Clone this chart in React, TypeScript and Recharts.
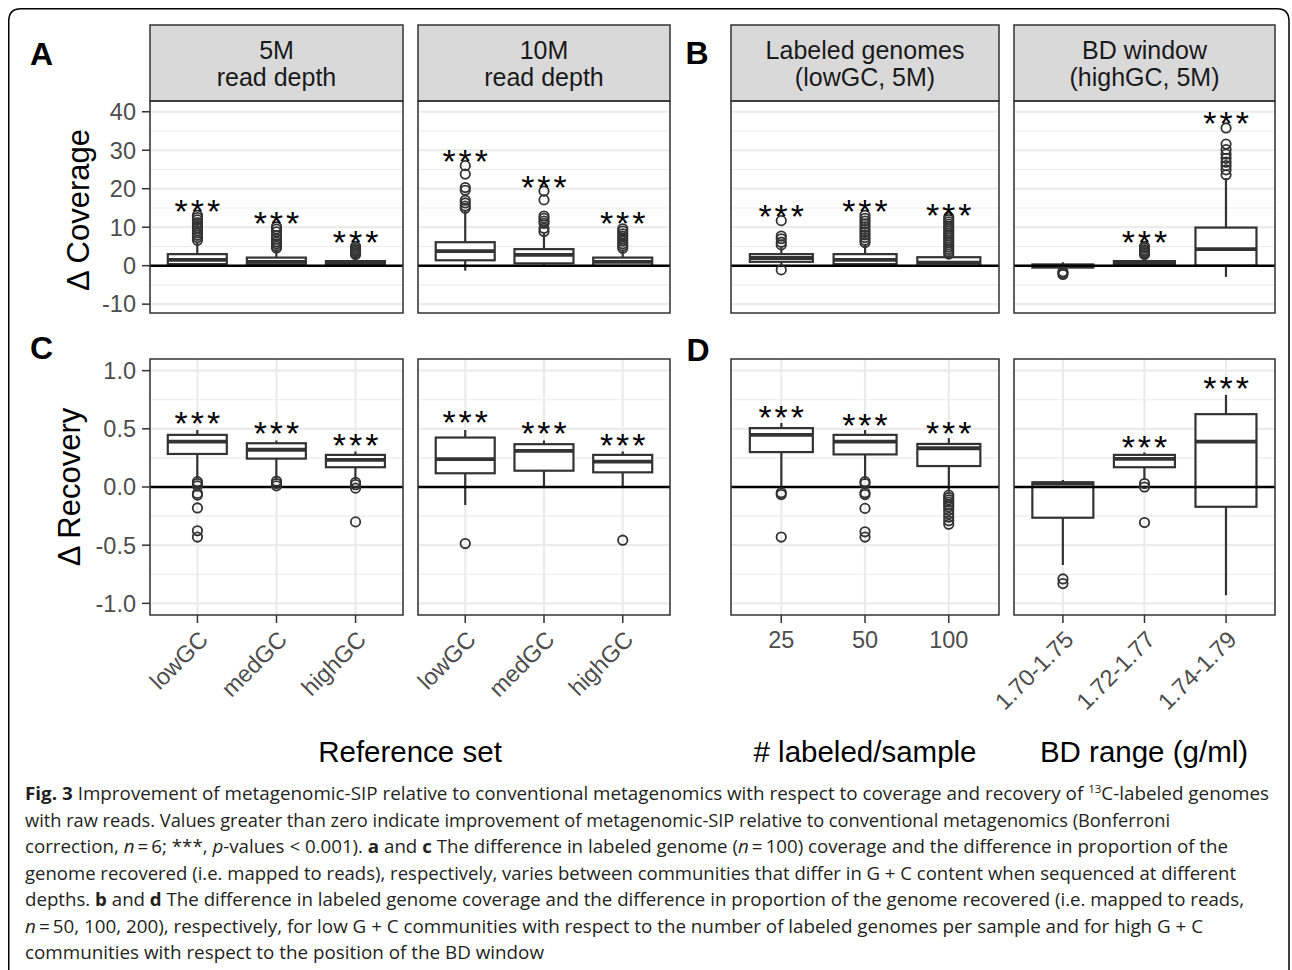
import React from 'react';
import {
  ComposedChart,
  Bar,
  Scatter,
  XAxis,
  YAxis,
  CartesianGrid,
  ReferenceLine,
} from 'recharts';

const FONT = '"Liberation Sans", Arial, Helvetica, sans-serif';
const CAPTION_FONT = '"Open Sans", "Liberation Sans", sans-serif';

// categories
const refCats = ['lowGC', 'medGC', 'highGC'];
const labeledCats = ['25', '50', '100'];
const bdCats = ['1.70-1.75', '1.72-1.77', '1.74-1.79'];

// box stats per category: [lower whisker, q1, median, q3, upper whisker]
const cov5MStats = [
  [0, 0.4, 1.5, 3.0, 6.0],
  [0, 0.3, 1.0, 2.1, 4.3],
  [0, 0.1, 0.5, 1.2, 2.6],
];
const cov5MOut = [
  [6.6, 7.3, 7.9, 8.5, 9.1, 9.8, 10.4, 11.2, 11.9, 12.5, 13.1],
  [4.6, 5.1, 5.7, 6.2, 6.9, 7.8, 8.8, 9.5, 10.1],
  [2.9, 3.3, 3.7, 4.1, 4.5, 5.0],
];
const cov5MStars = [16.0, 12.8, 8.0];

const cov10MStats = [
  [-1.3, 1.4, 3.8, 6.1, 14.3],
  [-0.3, 0.6, 2.8, 4.3, 8.4],
  [0, 0, 1.0, 2.1, 4.2],
];
const cov10MOut = [
  [14.9, 15.5, 16.3, 17.0, 19.6, 20.3, 23.8, 26.0],
  [8.9, 9.7, 11.0, 11.6, 12.3, 12.9, 17.1, 19.4],
  [4.5, 5.1, 5.7, 6.4, 7.0, 7.7, 8.3, 9.0, 9.6],
];
const cov10MStars = [28.9, 22.3, 12.8];

const covLabeledStats = [
  [0.2, 1.0, 2.0, 3.0, 4.9],
  [0, 0.4, 1.5, 3.0, 5.6],
  [0, 0, 0.8, 2.2, 2.7],
];
const covLabeledOut = [
  [-1.1, 5.4, 6.1, 7.0, 7.7, 11.7],
  [6.0, 6.6, 7.3, 8.0, 8.7, 9.4, 10.1, 10.9, 11.6, 12.3, 13.1],
  [3.0, 3.6, 4.2, 4.8, 5.4, 6.0, 6.6, 7.2, 7.8, 8.4, 9.0, 9.6, 10.2, 10.8, 11.4, 12.0, 12.6],
];
const covLabeledStars = [14.7, 16.0, 15.0];

const covBdStats = [
  [-1.2, -0.5, 0, 0.3, 0.9],
  [0, 0, 0.5, 1.2, 2.6],
  [-2.9, 0, 4.3, 9.9, 22.8],
];
const covBdOut = [
  [-1.6, -2.0, -2.3],
  [2.9, 3.3, 3.7, 4.1, 4.6, 5.0],
  [23.6, 24.9, 26.0, 26.9, 27.9, 29.0, 30.2, 31.6, 35.8],
];
const covBdStars = [null, 8.0, 38.9];

const rec5MStats = [
  [0.066, 0.284, 0.39, 0.448, 0.49],
  [0.06, 0.244, 0.32, 0.376, 0.4],
  [0.06, 0.17, 0.233, 0.276, 0.305],
];
const rec5MOut = [
  [0.046, 0.03, 0.01, -0.055, -0.07, -0.18, -0.376, -0.43],
  [0.05, 0.03, 0.01],
  [0.04, 0.02, -0.01, -0.3],
];
const rec5MStars = [0.606, 0.52, 0.42];

const rec10MStats = [
  [-0.155, 0.118, 0.24, 0.425, 0.49],
  [0.0, 0.14, 0.31, 0.368, 0.4],
  [0.0, 0.126, 0.218, 0.276, 0.305],
];
const rec10MOut = [[-0.486], [], [-0.457]];
const rec10MStars = [0.62, 0.52, 0.42];

const recLabeledStats = [
  [-0.01, 0.3, 0.448, 0.506, 0.55],
  [0.06, 0.28, 0.39, 0.448, 0.49],
  [-0.04, 0.18, 0.333, 0.37, 0.42],
];
const recLabeledOut = [
  [-0.05, -0.065, -0.43],
  [0.046, 0.03, -0.05, -0.065, -0.184, -0.385, -0.43],
  [-0.07, -0.09, -0.11, -0.13, -0.15, -0.17, -0.2, -0.23, -0.26, -0.29, -0.32],
];
const recLabeledStars = [0.664, 0.59, 0.52];

const recBdStats = [
  [-0.67, -0.264, 0.03, 0.04, 0.06],
  [0.06, 0.17, 0.241, 0.276, 0.296],
  [-0.93, -0.17, 0.39, 0.626, 0.79],
];
const recBdOut = [[-0.79, -0.83], [0.03, 0.0, -0.305], []];
const recBdStars = [null, 0.405, 0.908];

// axis ticks
const covTicks = [-10, 0, 10, 20, 30, 40];
const covMinor = [-5, 5, 15, 25, 35];
const recTicks = [-1, -0.5, 0, 0.5, 1];
const recMinor = [-0.75, -0.25, 0.25, 0.75];

const buildBoxes = (cats: string[], stats: number[][]) =>
  cats.map((cat, i) => ({
    cat,
    range: [stats[i][0], stats[i][4]],
    q1: stats[i][1],
    med: stats[i][2],
    q3: stats[i][3],
  }));

const buildPoints = (cats: string[], lists: number[][]) =>
  cats.flatMap((cat, i) => lists[i].map((value) => ({ cat, value })));

const buildStars = (cats: string[], stars: (number | null)[]) =>
  cats
    .map((cat, i) => ({ cat, value: stars[i] }))
    .filter((d) => d.value !== null);

const BoxShape = (props: any) => {
  const { x, y, width, height, payload } = props;
  const [lo, hi] = payload.range;
  const top = Math.min(y, y + height);
  const bottom = Math.max(y, y + height);
  const py = (v: number) => bottom - ((v - lo) / (hi - lo)) * (bottom - top);
  const cx = x + width / 2;
  const yq3 = py(payload.q3);
  const yq1 = py(payload.q1);
  return (
    <g>
      <line x1={cx} x2={cx} y1={py(hi)} y2={yq3} stroke="#333" strokeWidth={2.2} />
      <line x1={cx} x2={cx} y1={yq1} y2={py(lo)} stroke="#333" strokeWidth={2.2} />
      <rect
        x={x}
        y={yq3}
        width={width}
        height={Math.max(yq1 - yq3, 0.5)}
        fill="#fff"
        stroke="#333"
        strokeWidth={2.2}
      />
      <line
        x1={x}
        x2={x + width}
        y1={py(payload.med)}
        y2={py(payload.med)}
        stroke="#333"
        strokeWidth={3.8}
      />
    </g>
  );
};

const OutlierShape = (p: any) => (
  <circle cx={p.cx} cy={p.cy} r={4.7} fill="none" stroke="#333" strokeWidth={1.8} />
);

const StarShape = (p: any) => (
  <text
    x={p.cx + 1.5}
    y={p.cy + 19}
    textAnchor="middle"
    fontSize={34}
    letterSpacing={3}
    fontFamily={FONT}
    fill="#000"
  >
    ***
  </text>
);

const RotTick = (p: any) => {
  const ax = p.x + 12;
  const ay = p.y + 16;
  return (
    <text
      x={ax}
      y={ay}
      transform={`rotate(-45 ${ax} ${ay})`}
      textAnchor="end"
      fill="#4D4D4D"
      fontSize={23.5}
      fontFamily={FONT}
    >
      {p.payload.value}
    </text>
  );
};

const FlatTick = (p: any) => (
  <text x={p.x} y={p.y + 23} textAnchor="middle" fill="#4D4D4D" fontSize={23.5} fontFamily={FONT}>
    {p.payload.value}
  </text>
);

interface PanelProps {
  left: number;
  top: number;
  width: number;
  height: number;
  cats: string[];
  stats: number[][];
  out: number[][];
  stars: (number | null)[];
  domain: [number, number];
  ticks: number[];
  minor: number[];
  showY: boolean;
  xTicks: 'none' | 'rotated' | 'flat';
  yFormat?: (v: number) => string;
}

const MARGIN_LEFT = 90;
const MARGIN_TOP = 20;

const Panel: React.FC<PanelProps> = ({
  left, top, width, height, cats, stats, out, stars, domain, ticks, minor, showY, xTicks, yFormat,
}) => {
  const yW = showY ? 70 : 0;
  const xH = xTicks === 'none' ? 12 : 100;
  const pad = width * 0.03125;
  const tick = xTicks === 'none' ? false : xTicks === 'rotated' ? <RotTick /> : <FlatTick />;
  return (
    <div style={{ position: 'absolute', left: left - yW - MARGIN_LEFT, top: top - MARGIN_TOP }}>
      <ComposedChart
        width={width + yW + MARGIN_LEFT}
        height={height + xH + MARGIN_TOP}
        data={buildBoxes(cats, stats)}
        margin={{ top: MARGIN_TOP, right: 0, bottom: 0, left: MARGIN_LEFT }}
        barCategoryGap="12.5%"
      >
        <CartesianGrid horizontalValues={minor} vertical={false} stroke="#EBEBEB" strokeWidth={1.1} />
        <CartesianGrid horizontalValues={ticks} stroke="#EBEBEB" strokeWidth={2.2} />
        <XAxis
          dataKey="cat"
          type="category"
          allowDuplicatedCategory={false}
          padding={{ left: pad, right: pad }}
          axisLine={false}
          tickLine={{ stroke: '#333', strokeWidth: 1.5 }}
          tickSize={8}
          tickMargin={2}
          height={xH}
          interval={0}
          tick={tick}
        />
        <YAxis
          type="number"
          domain={domain}
          ticks={ticks}
          allowDataOverflow
          hide={!showY}
          width={yW}
          axisLine={false}
          tickLine={{ stroke: '#333', strokeWidth: 1.5 }}
          tickSize={8}
          tickMargin={6}
          interval={0}
          tickFormatter={yFormat}
          tick={{ fill: '#4D4D4D', fontSize: 23.5, fontFamily: FONT }}
        />
        <Bar dataKey="range" shape={(p: any) => <BoxShape {...p} />} isAnimationActive={false} />
        <ReferenceLine y={0} stroke="#000" strokeWidth={2.5} />
        <Scatter
          data={buildPoints(cats, out)}
          dataKey="value"
          shape={OutlierShape}
          isAnimationActive={false}
        />
        <Scatter
          data={buildStars(cats, stars)}
          dataKey="value"
          shape={StarShape}
          isAnimationActive={false}
        />
      </ComposedChart>
    </div>
  );
};

const cols = [
  { x: 150, w: 253 },
  { x: 418, w: 252 },
  { x: 731, w: 268 },
  { x: 1014, w: 261 },
];
const row1 = { y: 101, h: 212 };
const row2 = { y: 359, h: 256 };

const stripLabels = [
  ['5M', 'read depth'],
  ['10M', 'read depth'],
  ['Labeled genomes', '(lowGC, 5M)'],
  ['BD window', '(highGC, 5M)'],
];

const recFormat = (v: number) => v.toFixed(1);

const App: React.FC = () => {
  const covDomain: [number, number] = [-12.3, 42.8];
  const recDomain: [number, number] = [-1.1, 1.1];
  return (
    <div
      style={{
        position: 'absolute',
        left: 0,
        top: 0,
        width: 1292,
        height: 970,
        background: '#fff',
        overflow: 'hidden',
      }}
    >
      <Panel left={cols[0].x} top={row1.y} width={cols[0].w} height={row1.h} cats={refCats}
        stats={cov5MStats} out={cov5MOut} stars={cov5MStars} domain={covDomain}
        ticks={covTicks} minor={covMinor} showY xTicks="none" />
      <Panel left={cols[1].x} top={row1.y} width={cols[1].w} height={row1.h} cats={refCats}
        stats={cov10MStats} out={cov10MOut} stars={cov10MStars} domain={covDomain}
        ticks={covTicks} minor={covMinor} showY={false} xTicks="none" />
      <Panel left={cols[2].x} top={row1.y} width={cols[2].w} height={row1.h} cats={labeledCats}
        stats={covLabeledStats} out={covLabeledOut} stars={covLabeledStars} domain={covDomain}
        ticks={covTicks} minor={covMinor} showY={false} xTicks="none" />
      <Panel left={cols[3].x} top={row1.y} width={cols[3].w} height={row1.h} cats={bdCats}
        stats={covBdStats} out={covBdOut} stars={covBdStars} domain={covDomain}
        ticks={covTicks} minor={covMinor} showY={false} xTicks="none" />

      <Panel left={cols[0].x} top={row2.y} width={cols[0].w} height={row2.h} cats={refCats}
        stats={rec5MStats} out={rec5MOut} stars={rec5MStars} domain={recDomain}
        ticks={recTicks} minor={recMinor} showY xTicks="rotated" yFormat={recFormat} />
      <Panel left={cols[1].x} top={row2.y} width={cols[1].w} height={row2.h} cats={refCats}
        stats={rec10MStats} out={rec10MOut} stars={rec10MStars} domain={recDomain}
        ticks={recTicks} minor={recMinor} showY={false} xTicks="rotated" />
      <Panel left={cols[2].x} top={row2.y} width={cols[2].w} height={row2.h} cats={labeledCats}
        stats={recLabeledStats} out={recLabeledOut} stars={recLabeledStars} domain={recDomain}
        ticks={recTicks} minor={recMinor} showY={false} xTicks="flat" />
      <Panel left={cols[3].x} top={row2.y} width={cols[3].w} height={row2.h} cats={bdCats}
        stats={recBdStats} out={recBdOut} stars={recBdStars} domain={recDomain}
        ticks={recTicks} minor={recMinor} showY={false} xTicks="rotated" />

      <svg
        width={1292}
        height={970}
        style={{ position: 'absolute', left: 0, top: 0, pointerEvents: 'none' }}
      >
        {/* outer frame */}
        <path
          d="M 8.75 1000 V 21 Q 8.75 8.75 21 8.75 H 1277 Q 1289 8.75 1289 21 V 1000"
          fill="none"
          stroke="#000"
          strokeWidth={1.5}
        />

        {/* strips */}
        {cols.map((c, i) => (
          <g key={`strip-${i}`}>
            <rect x={c.x} y={25} width={c.w} height={row1.y - 25} fill="#D9D9D9" stroke="#333" strokeWidth={1.5} />
            <text x={c.x + c.w / 2} y={58.5} textAnchor="middle" fontSize={25} fontFamily={FONT} fill="#1A1A1A">
              {stripLabels[i][0]}
            </text>
            <text x={c.x + c.w / 2} y={85.5} textAnchor="middle" fontSize={25} fontFamily={FONT} fill="#1A1A1A">
              {stripLabels[i][1]}
            </text>
          </g>
        ))}

        {/* panel borders */}
        {[row1, row2].map((r, j) =>
          cols.map((c, i) => (
            <rect key={`b-${j}-${i}`} x={c.x} y={r.y} width={c.w} height={r.h} fill="none" stroke="#333" strokeWidth={1.5} />
          )),
        )}

        {/* panel letters */}
        {[
          ['A', 41.5, 65],
          ['B', 697, 64],
          ['C', 41.5, 358.5],
          ['D', 698, 361],
        ].map(([t, x, y]) => (
          <text key={t as string} x={x as number} y={y as number} textAnchor="middle" fontSize={32} fontWeight="bold" fontFamily={FONT} fill="#000">
            {t}
          </text>
        ))}

        {/* y titles */}
        <text x={89} y={210} transform="rotate(-90 89 210)" textAnchor="middle" fontSize={31} fontFamily={FONT} fill="#000">
          Δ Coverage
        </text>
        <text x={80} y={487} transform="rotate(-90 80 487)" textAnchor="middle" fontSize={31} fontFamily={FONT} fill="#000">
          Δ Recovery
        </text>

        {/* x titles */}
        <text x={410} y={762} textAnchor="middle" fontSize={29.5} fontFamily={FONT} fill="#000">Reference set</text>
        <text x={865} y={762} textAnchor="middle" fontSize={29.5} fontFamily={FONT} fill="#000"># labeled/sample</text>
        <text x={1144} y={762} textAnchor="middle" fontSize={29.5} fontFamily={FONT} fill="#000">BD range (g/ml)</text>

        {/* caption */}
        <g fontFamily={CAPTION_FONT} fontSize={18} fill="#231F20">
          <text x={25} y={800} textLength={1244} lengthAdjust="spacingAndGlyphs">
            <tspan fontWeight="bold">Fig. 3</tspan> Improvement of metagenomic-SIP relative to conventional metagenomics with respect to coverage and recovery of{' '}
            <tspan dy={-7} fontSize={11}>13</tspan>
            <tspan dy={7}>C-labeled genomes</tspan>
          </text>
          <text x={25} y={826.5} textLength={1145} lengthAdjust="spacingAndGlyphs">
            with raw reads. Values greater than zero indicate improvement of metagenomic-SIP relative to conventional metagenomics (Bonferroni
          </text>
          <text x={25} y={853} textLength={1203} lengthAdjust="spacingAndGlyphs">
            correction, <tspan fontStyle="italic">n</tspan>{'\u2009=\u20096; ***, '}
            <tspan fontStyle="italic">p</tspan>-values {'<'} 0.001). <tspan fontWeight="bold">a</tspan> and{' '}
            <tspan fontWeight="bold">c</tspan> The difference in labeled genome (<tspan fontStyle="italic">n</tspan>
            {'\u2009=\u2009100) coverage and the difference in proportion of the'}
          </text>
          <text x={25} y={879.5} textLength={1211} lengthAdjust="spacingAndGlyphs">
            genome recovered (i.e. mapped to reads), respectively, varies between communities that differ in G + C content when sequenced at different
          </text>
          <text x={25} y={906} textLength={1219} lengthAdjust="spacingAndGlyphs">
            depths. <tspan fontWeight="bold">b</tspan> and <tspan fontWeight="bold">d</tspan> The difference in labeled genome coverage and the difference in proportion of the genome recovered (i.e. mapped to reads,
          </text>
          <text x={25} y={932.5} textLength={1178} lengthAdjust="spacingAndGlyphs">
            <tspan fontStyle="italic">n</tspan>
            {'\u2009=\u200950, 100, 200), respectively, for low G + C communities with respect to the number of labeled genomes per sample and for high G + C'}
          </text>
          <text x={25} y={959} textLength={519} lengthAdjust="spacingAndGlyphs">
            communities with respect to the position of the BD window
          </text>
        </g>
      </svg>
    </div>
  );
};

export default App;
